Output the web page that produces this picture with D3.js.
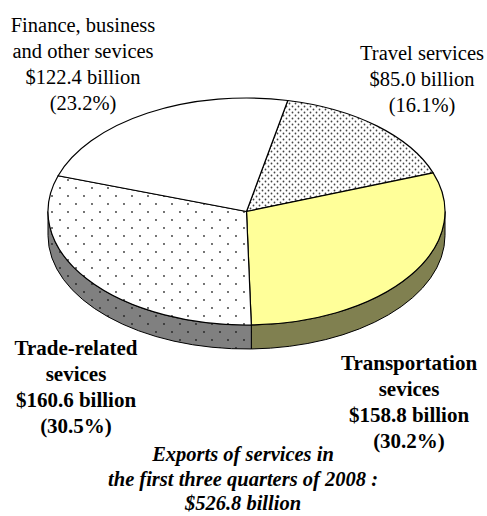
<!DOCTYPE html>
<html>
<head>
<meta charset="utf-8">
<script src="https://cdn.jsdelivr.net/npm/d3@7"></script>
<style>
  body { margin: 0; background: #fff; }
</style>
</head>
<body>
<svg width="487" height="516"></svg>
<script>
// slice data, clockwise from the top
const categories = ["Travel services", "Transportation sevices", "Trade-related sevices", "Finance, business and other sevices"];
const values = [85.0, 158.8, 160.6, 122.4];
const shares = ["16.1%", "30.2%", "30.5%", "23.2%"];
const fills = ["url(#dense)", "#ffff99", "url(#sparse)", "#ffffff"];
const sideFills = ["#808080", "#808050", "url(#sparseSide)", "#ffffff"];

const FONT = "'Liberation Serif', 'Times New Roman', Times, serif";

const svg = d3.select("svg");
const cx = 246.5, cy = 211.5, rx = 198.5, ry = 113.5, depth = 24;

const defs = svg.append("defs");
function dots(id, size, bg, dot, r) {
  const p = defs.append("pattern").attr("id", id)
    .attr("patternUnits", "userSpaceOnUse")
    .attr("width", size).attr("height", size);
  p.append("rect").attr("width", size).attr("height", size).attr("fill", bg);
  p.append("circle").attr("cx", size / 4).attr("cy", size / 4).attr("r", r).attr("fill", dot);
  p.append("circle").attr("cx", size * 3 / 4).attr("cy", size * 3 / 4).attr("r", r).attr("fill", dot);
}
dots("dense", 6, "#fff", "#444", 0.9);
dots("sparse", 16, "#fff", "#333", 0.9);
dots("sparseSide", 16, "#808080", "#222", 0.9);

const startAngle = 12 * Math.PI / 180;
const pie = d3.pie().sort(null).value(d => d)
  .startAngle(startAngle).endAngle(startAngle + 2 * Math.PI);
const arcs = pie(values);

const pt = (a, dy = 0) => [cx + rx * Math.sin(a), cy - ry * Math.cos(a) + dy];

// side walls on the front half (angles between 90 and 270 deg)
const lo = Math.PI / 2, hi = 3 * Math.PI / 2;
arcs.forEach((d, i) => {
  let a0 = Math.max(d.startAngle, lo), a1 = Math.min(d.endAngle, hi);
  if (a1 <= a0) return;
  const p0 = pt(a0), p1 = pt(a1), q1 = pt(a1, depth), q0 = pt(a0, depth);
  svg.append("path")
    .attr("d", `M${p0}A${rx},${ry} 0 0 1 ${p1}L${q1}A${rx},${ry} 0 0 0 ${q0}Z`)
    .attr("fill", sideFills[i])
    .attr("stroke", "#000").attr("stroke-width", 1);
});

// top faces
arcs.forEach((d, i) => {
  const p0 = pt(d.startAngle), p1 = pt(d.endAngle);
  const large = d.endAngle - d.startAngle > Math.PI ? 1 : 0;
  svg.append("path")
    .attr("d", `M${cx},${cy}L${p0}A${rx},${ry} 0 ${large} 1 ${p1}Z`)
    .attr("fill", fills[i])
    .attr("stroke", "#000").attr("stroke-width", 1.2)
    .attr("stroke-linejoin", "round");
});

// labels
const fmt = v => `$${v.toFixed(1)} billion`;
const labels = [
  { x: 422, y: 60, bold: false, lines: ["Travel services", fmt(values[0]), `(${shares[0]})`] },
  { x: 409, y: 370, bold: true, lines: ["Transportation", "sevices", fmt(values[1]), `(${shares[1]})`] },
  { x: 76, y: 355, bold: true, lines: ["Trade-related", "sevices", fmt(values[2]), `(${shares[2]})`] },
  { x: 83, y: 32, bold: false, lines: ["Finance, business", "and other sevices", fmt(values[3]), `(${shares[3]})`] }
];
labels.forEach(l => {
  const t = svg.append("text")
    .attr("text-anchor", "middle")
    .attr("font-family", FONT)
    .attr("font-size", l.bold ? 21 : 20.5)
    .attr("font-weight", l.bold ? "bold" : "normal")
    .attr("fill", "#000");
  l.lines.forEach((s, j) => {
    t.append("tspan").attr("x", l.x).attr("y", l.y + j * 26).text(s);
  });
});

const total = d3.sum(values);
const title = ["Exports of services in", "the first three quarters of 2008 :", `$${total.toFixed(1)} billion`];
const tt = svg.append("text")
  .attr("text-anchor", "middle")
  .attr("font-family", FONT)
  .attr("font-size", 20.5)
  .attr("font-weight", "bold")
  .attr("font-style", "italic");
title.forEach((s, j) => {
  tt.append("tspan").attr("x", 243).attr("y", 461 + j * 24.5).text(s);
});
</script>
</body>
</html>
